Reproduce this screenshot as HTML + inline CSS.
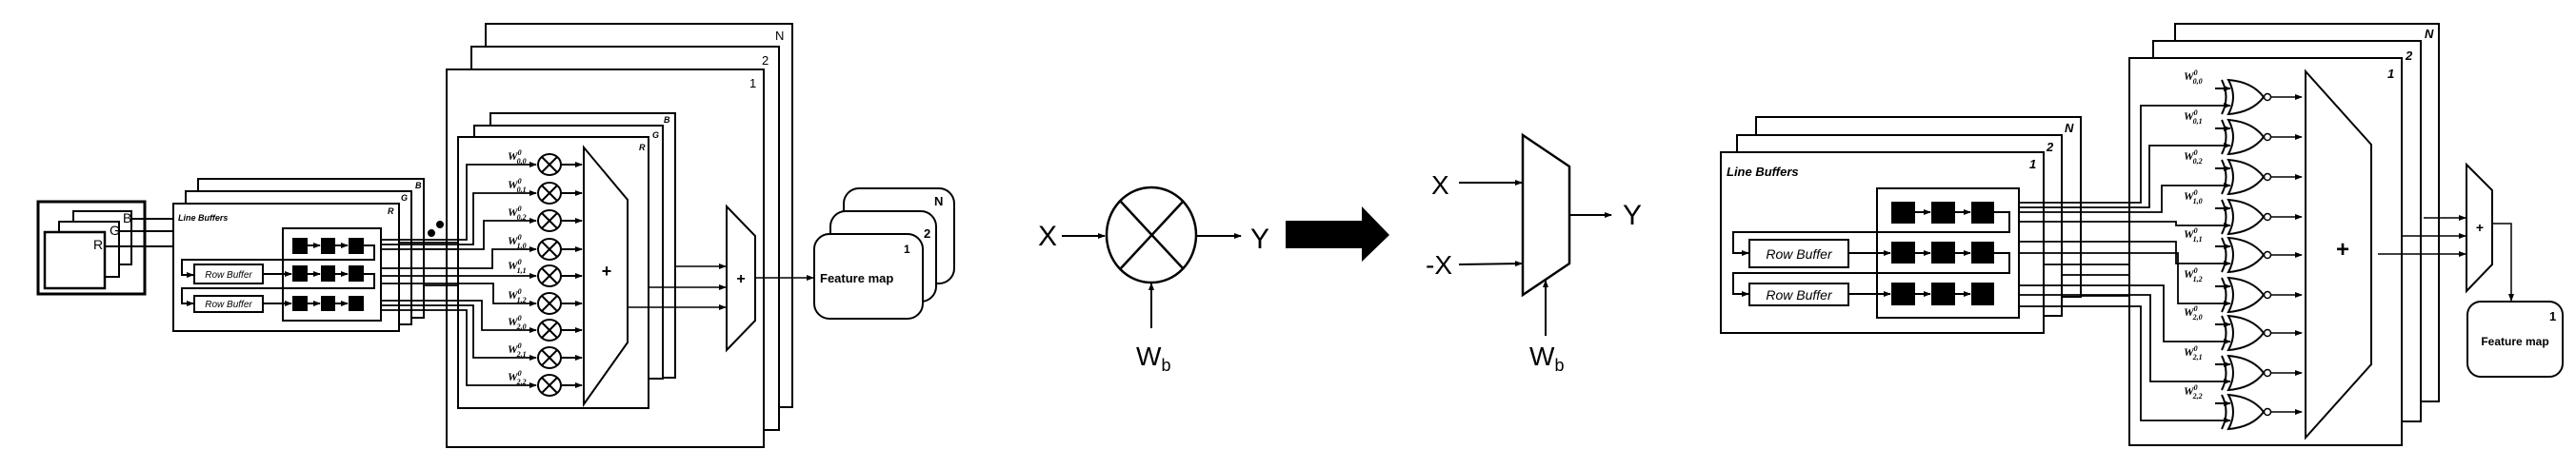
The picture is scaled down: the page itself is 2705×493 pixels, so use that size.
<!DOCTYPE html>
<html><head><meta charset="utf-8"><style>
html,body{margin:0;padding:0;background:#fff}
svg{display:block}
text{font-family:"Liberation Sans",sans-serif;fill:#000}
.it{font-style:italic;font-weight:bold}
.w{font-family:"Liberation Serif",serif;font-style:italic;font-weight:bold;font-size:12px}
</style></head><body>
<svg width="2705" height="493" viewBox="0 0 2705 493" xmlns="http://www.w3.org/2000/svg">
<defs>
<marker id="a" markerWidth="8" markerHeight="8" refX="7" refY="4" orient="auto" markerUnits="userSpaceOnUse"><path d="M0,1 L8,4 L0,7z" fill="#000"/></marker>
<g id="m" fill="#fff" stroke="#000" stroke-width="2"><ellipse cx="577" cy="0" rx="12" ry="11"/><line x1="569" y1="-8" x2="585" y2="8"/><line x1="585" y1="-8" x2="569" y2="8"/><line x1="589" y1="0" x2="611" y2="0" marker-end="url(#a)"/></g>
<g id="x" fill="none" stroke="#000" stroke-width="2">
<path d="M2333,-18 Q2342,0 2333,18"/>
<path d="M2340,-18 Q2350,0 2340,18 Q2365,16 2377,0 Q2365,-16 2340,-18z" fill="#fff"/>
<circle cx="2381" cy="0" r="3.5" stroke-width="1.5"/>
<line x1="2385" y1="0" x2="2417" y2="0" marker-end="url(#a)" stroke-width="1.5"/>
<line x1="2326" y1="-9" x2="2342" y2="-9" marker-end="url(#a)"/>
</g>
</defs>
<g fill="#fff" stroke="#000" stroke-width="2">
<!-- ===== LEFT ===== -->
<rect x="40" y="212" width="112" height="97" stroke-width="3"/>
<rect x="77" y="222" width="61" height="56"/>
<rect x="62" y="233" width="63" height="58"/>
<rect x="47" y="244" width="63" height="59" stroke-width="2.5"/>
<line x1="138" y1="230" x2="182" y2="230"/>
<line x1="125" y1="243" x2="182" y2="243"/>
<line x1="110" y1="259" x2="305" y2="259" marker-end="url(#a)"/>
<rect x="208" y="188" width="237" height="146"/>
<rect x="195" y="201" width="237" height="140"/>
<rect x="182" y="214" width="237" height="134"/>
<rect x="297" y="240" width="103" height="97"/>
<g fill="#000" stroke="none">
<rect x="307" y="250" width="16" height="17"/><rect x="337" y="250" width="15" height="17"/><rect x="366" y="250" width="16" height="17"/>
<rect x="307" y="279" width="16" height="17"/><rect x="337" y="279" width="15" height="17"/><rect x="366" y="279" width="16" height="17"/>
<rect x="307" y="311" width="16" height="16"/><rect x="337" y="311" width="15" height="16"/><rect x="366" y="311" width="16" height="16"/>
</g>
<g fill="none">
<line x1="323" y1="258" x2="336" y2="258" marker-end="url(#a)"/><line x1="352" y1="258" x2="365" y2="258" marker-end="url(#a)"/>
<line x1="323" y1="288" x2="336" y2="288" marker-end="url(#a)"/><line x1="352" y1="288" x2="365" y2="288" marker-end="url(#a)"/>
<line x1="323" y1="319" x2="336" y2="319" marker-end="url(#a)"/><line x1="352" y1="319" x2="365" y2="319" marker-end="url(#a)"/>
<line x1="276" y1="288" x2="306" y2="288" marker-end="url(#a)"/><line x1="276" y1="319" x2="306" y2="319" marker-end="url(#a)"/>
<polyline points="382,258 393,258 393,273 191,273 191,289 203,289" marker-end="url(#a)"/>
<polyline points="382,288 393,288 393,303 191,303 191,319 203,319" marker-end="url(#a)"/>
</g>
<rect x="204" y="278" width="72" height="20"/>
<rect x="204" y="311" width="72" height="17"/>
<circle cx="453" cy="245" r="3" fill="#000"/><circle cx="462" cy="236" r="3" fill="#000"/>
<rect x="510" y="25" width="322" height="403"/>
<rect x="495" y="49" width="323" height="403"/>
<rect x="469" y="73" width="333" height="397"/>
<rect x="515" y="119" width="194" height="278"/>
<rect x="498" y="132" width="198" height="266"/>
<rect x="481" y="144" width="200" height="285"/>
<g fill="none" stroke-width="1.8">
<polyline points="400,252 490,252 490,173 563,173" marker-end="url(#a)"/>
<polyline points="400,257 497,257 497,203 563,203" marker-end="url(#a)"/>
<polyline points="400,262 508,262 508,232 563,232" marker-end="url(#a)"/>
<polyline points="400,282 517,282 517,262 563,262" marker-end="url(#a)"/>
<polyline points="400,290 563,290" marker-end="url(#a)"/>
<polyline points="400,298 518,298 518,319 563,319" marker-end="url(#a)"/>
<polyline points="400,316 506,316 506,347 563,347" marker-end="url(#a)"/>
<polyline points="400,321 497,321 497,376 563,376" marker-end="url(#a)"/>
<polyline points="400,326 490,326 490,405 563,405" marker-end="url(#a)"/>
<line x1="420" y1="255" x2="482" y2="255"/>
<line x1="432" y1="262" x2="482" y2="262"/>
<line x1="445" y1="300" x2="482" y2="300"/>
</g>
</g>
<use href="#m" y="173"/><use href="#m" y="203"/><use href="#m" y="232"/><use href="#m" y="262"/><use href="#m" y="290"/><use href="#m" y="319"/><use href="#m" y="347"/><use href="#m" y="376"/><use href="#m" y="405"/>
<g fill="#fff" stroke="#000" stroke-width="2">
<polygon points="613,155 659,210 659,360 613,425"/>
<polygon points="763,217 793,248 793,337 763,368"/>
<g fill="none" stroke-width="1.5">
<line x1="709" y1="280" x2="762" y2="280" marker-end="url(#a)"/>
<line x1="681" y1="302" x2="762" y2="302" marker-end="url(#a)"/>
<line x1="659" y1="323" x2="762" y2="323" marker-end="url(#a)"/>
<line x1="793" y1="292" x2="854" y2="292" marker-end="url(#a)"/>
</g>
<rect x="886" y="198" width="116" height="100" rx="16"/>
<rect x="872" y="222" width="111" height="95" rx="16"/>
<rect x="855" y="246" width="114" height="89" rx="16"/>
<!-- ===== MIDDLE ===== -->
<g fill="none" stroke-width="2">
<line x1="1115" y1="248" x2="1160" y2="248" marker-end="url(#a)"/>
<ellipse cx="1209" cy="247" rx="47" ry="50" stroke-width="2.5"/>
<line x1="1177" y1="212" x2="1242" y2="282" stroke-width="2.5"/><line x1="1242" y1="212" x2="1177" y2="282" stroke-width="2.5"/>
<line x1="1257" y1="248" x2="1303" y2="248" marker-end="url(#a)"/>
<line x1="1209" y1="345" x2="1209" y2="298" marker-end="url(#a)"/>
<line x1="1532" y1="192" x2="1598" y2="192" marker-end="url(#a)"/>
<line x1="1532" y1="278" x2="1598" y2="277" marker-end="url(#a)"/>
<polygon points="1599,142 1648,175 1648,277 1599,310" stroke-width="2.5"/>
<line x1="1649" y1="226" x2="1692" y2="226" marker-end="url(#a)"/>
<line x1="1623" y1="353" x2="1623" y2="295" marker-end="url(#a)"/>
</g>
<polygon points="1350,232 1430,232 1430,217 1459,247 1430,275 1430,261 1350,261" fill="#000" stroke="none"/>
<!-- ===== RIGHT ===== -->
<rect x="1844" y="123" width="341" height="189"/>
<rect x="1824" y="142" width="341" height="190"/>
<rect x="1807" y="160" width="339" height="190"/>
<rect x="1971" y="198" width="149" height="136"/>
<g fill="#000" stroke="none">
<rect x="1986" y="212" width="25" height="23"/><rect x="2028" y="212" width="25" height="23"/><rect x="2070" y="212" width="24" height="23"/>
<rect x="1986" y="254" width="25" height="23"/><rect x="2028" y="254" width="25" height="23"/><rect x="2070" y="254" width="24" height="23"/>
<rect x="1986" y="297" width="25" height="24"/><rect x="2028" y="297" width="25" height="24"/><rect x="2070" y="297" width="24" height="24"/>
</g>
<g fill="none">
<line x1="2011" y1="223" x2="2027" y2="223" marker-end="url(#a)"/><line x1="2053" y1="223" x2="2069" y2="223" marker-end="url(#a)"/>
<line x1="2011" y1="266" x2="2027" y2="266" marker-end="url(#a)"/><line x1="2053" y1="266" x2="2069" y2="266" marker-end="url(#a)"/>
<line x1="2011" y1="309" x2="2027" y2="309" marker-end="url(#a)"/><line x1="2053" y1="309" x2="2069" y2="309" marker-end="url(#a)"/>
<line x1="1941" y1="266" x2="1985" y2="266" marker-end="url(#a)"/><line x1="1941" y1="309" x2="1985" y2="309" marker-end="url(#a)"/>
<polyline points="2094,223 2110,223 2110,244 1820,244 1820,266 1836,266" marker-end="url(#a)"/>
<polyline points="2094,266 2110,266 2110,287 1820,287 1820,309 1836,309" marker-end="url(#a)"/>
</g>
<rect x="1837" y="252" width="104" height="29"/>
<rect x="1837" y="298" width="104" height="23"/>
<rect x="2284" y="25" width="277" height="397"/>
<rect x="2261" y="43" width="281" height="400"/>
<rect x="2236" y="61" width="286" height="407"/>
<g fill="none" stroke-width="1.8">
<polyline points="2120,213 2248,213 2248,111 2342,111" marker-end="url(#a)"/>
<polyline points="2120,218 2257,218 2257,153 2342,153" marker-end="url(#a)"/>
<polyline points="2120,223 2270,223 2270,195 2342,195" marker-end="url(#a)"/>
<polyline points="2120,233 2285,233 2285,237 2342,237" marker-end="url(#a)"/>
<polyline points="2120,254 2285,254 2285,277 2342,277" marker-end="url(#a)"/>
<polyline points="2120,266 2287,266 2287,319 2342,319" marker-end="url(#a)"/>
<polyline points="2120,300 2272,300 2272,359 2342,359" marker-end="url(#a)"/>
<polyline points="2120,310 2258,310 2258,401 2342,401" marker-end="url(#a)"/>
<polyline points="2120,322 2248,322 2248,442 2342,442" marker-end="url(#a)"/>
<line x1="2146" y1="278" x2="2236" y2="278"/>
<line x1="2165" y1="289" x2="2236" y2="289"/>
<line x1="2185" y1="311" x2="2236" y2="311"/>
</g>
</g>
<use href="#x" y="102"/><use href="#x" y="144"/><use href="#x" y="186"/><use href="#x" y="228"/><use href="#x" y="268"/><use href="#x" y="310"/><use href="#x" y="350"/><use href="#x" y="392"/><use href="#x" y="433"/>
<g fill="#fff" stroke="#000" stroke-width="2">
<polygon points="2421,75 2490,152 2490,383 2421,460"/>
<polygon points="2590,173 2617,200 2617,278 2590,306"/>
<g fill="none" stroke-width="1.5">
<line x1="2545" y1="229" x2="2589" y2="229" marker-end="url(#a)"/>
<line x1="2521" y1="248" x2="2589" y2="248" marker-end="url(#a)"/>
<line x1="2497" y1="267" x2="2589" y2="267" marker-end="url(#a)"/>
<polyline points="2617,235 2637,235 2637,316" marker-end="url(#a)"/>
</g>
<rect x="2591" y="317" width="100" height="79" rx="14"/>
</g>
<!-- ===== TEXT ===== -->
<g font-size="15">
<text x="98" y="262" font-size="14">R</text><text x="115" y="247" font-size="14">G</text><text x="129" y="234" font-size="14">B</text>
<text x="187" y="232" class="it" font-size="9">Line Buffers</text>
<text x="407" y="225" class="it" font-size="9">R</text><text x="421" y="211" class="it" font-size="9">G</text><text x="436" y="198" class="it" font-size="9">B</text>
<text x="240" y="292" font-size="10" font-style="italic" text-anchor="middle">Row Buffer</text>
<text x="240" y="323" font-size="10" font-style="italic" text-anchor="middle">Row Buffer</text>
<text x="787" y="92" font-size="13">1</text><text x="800" y="68" font-size="13">2</text><text x="814" y="42" font-size="13">N</text>
<text x="671" y="158" class="it" font-size="9">R</text><text x="685" y="145" class="it" font-size="9">G</text><text x="697" y="129" class="it" font-size="9">B</text>
<text x="637" y="291" font-size="18" font-weight="bold" text-anchor="middle">+</text>
<text x="778" y="298" font-size="16" font-weight="bold" text-anchor="middle">+</text>
<text x="981" y="216" font-size="13" font-weight="bold">N</text><text x="970" y="250" font-size="13" font-weight="bold">2</text><text x="949" y="266" font-size="12" font-weight="bold">1</text>
<text x="861" y="297" font-size="13" font-weight="bold">Feature map</text>
<text x="533" y="168" class="w">W<tspan dy="-5" font-size="8">0</tspan><tspan dx="-5" dy="9" font-size="8">0,0</tspan></text>
<text x="533" y="198" class="w">W<tspan dy="-5" font-size="8">0</tspan><tspan dx="-5" dy="9" font-size="8">0,1</tspan></text>
<text x="533" y="227" class="w">W<tspan dy="-5" font-size="8">0</tspan><tspan dx="-5" dy="9" font-size="8">0,2</tspan></text>
<text x="533" y="257" class="w">W<tspan dy="-5" font-size="8">0</tspan><tspan dx="-5" dy="9" font-size="8">1,0</tspan></text>
<text x="533" y="283" class="w">W<tspan dy="-5" font-size="8">0</tspan><tspan dx="-5" dy="9" font-size="8">1,1</tspan></text>
<text x="533" y="314" class="w">W<tspan dy="-5" font-size="8">0</tspan><tspan dx="-5" dy="9" font-size="8">1,2</tspan></text>
<text x="533" y="342" class="w">W<tspan dy="-5" font-size="8">0</tspan><tspan dx="-5" dy="9" font-size="8">2,0</tspan></text>
<text x="533" y="371" class="w">W<tspan dy="-5" font-size="8">0</tspan><tspan dx="-5" dy="9" font-size="8">2,1</tspan></text>
<text x="533" y="400" class="w">W<tspan dy="-5" font-size="8">0</tspan><tspan dx="-5" dy="9" font-size="8">2,2</tspan></text>
<text x="1090" y="258" font-size="30">X</text>
<text x="1313" y="261" font-size="30">Y</text>
<text x="1193" y="384" font-size="28">W<tspan font-size="18" dy="6">b</tspan></text>
<text x="1503" y="204" font-size="28">X</text>
<text x="1497" y="288" font-size="28">-X</text>
<text x="1704" y="236" font-size="30">Y</text>
<text x="1606" y="384" font-size="28">W<tspan font-size="18" dy="6">b</tspan></text>
<text x="1813" y="185" class="it" font-size="13">Line Buffers</text>
<text x="2131" y="177" class="it" font-size="13">1</text><text x="2149" y="159" class="it" font-size="13">2</text><text x="2168" y="139" class="it" font-size="13">N</text>
<text x="1889" y="272" font-size="14" font-style="italic" text-anchor="middle">Row Buffer</text>
<text x="1889" y="315" font-size="14" font-style="italic" text-anchor="middle">Row Buffer</text>
<text x="2507" y="82" class="it" font-size="13">1</text><text x="2526" y="63" class="it" font-size="13">2</text><text x="2546" y="40" class="it" font-size="13">N</text>
<text x="2460" y="270" font-size="24" font-weight="bold" text-anchor="middle">+</text>
<text x="2604" y="244" font-size="14" font-weight="bold" text-anchor="middle">+</text>
<text x="2677" y="337" font-size="13" font-weight="bold">1</text>
<text x="2641" y="363" font-size="12" font-weight="bold" text-anchor="middle">Feature map</text>
<text x="2293" y="84" class="w">W<tspan dy="-5" font-size="8">0</tspan><tspan dx="-5" dy="9" font-size="8">0,0</tspan></text>
<text x="2293" y="126" class="w">W<tspan dy="-5" font-size="8">0</tspan><tspan dx="-5" dy="9" font-size="8">0,1</tspan></text>
<text x="2293" y="168" class="w">W<tspan dy="-5" font-size="8">0</tspan><tspan dx="-5" dy="9" font-size="8">0,2</tspan></text>
<text x="2293" y="210" class="w">W<tspan dy="-5" font-size="8">0</tspan><tspan dx="-5" dy="9" font-size="8">1,0</tspan></text>
<text x="2293" y="250" class="w">W<tspan dy="-5" font-size="8">0</tspan><tspan dx="-5" dy="9" font-size="8">1,1</tspan></text>
<text x="2293" y="292" class="w">W<tspan dy="-5" font-size="8">0</tspan><tspan dx="-5" dy="9" font-size="8">1,2</tspan></text>
<text x="2293" y="332" class="w">W<tspan dy="-5" font-size="8">0</tspan><tspan dx="-5" dy="9" font-size="8">2,0</tspan></text>
<text x="2293" y="374" class="w">W<tspan dy="-5" font-size="8">0</tspan><tspan dx="-5" dy="9" font-size="8">2,1</tspan></text>
<text x="2293" y="415" class="w">W<tspan dy="-5" font-size="8">0</tspan><tspan dx="-5" dy="9" font-size="8">2,2</tspan></text>
</g>
</svg>
</body></html>
